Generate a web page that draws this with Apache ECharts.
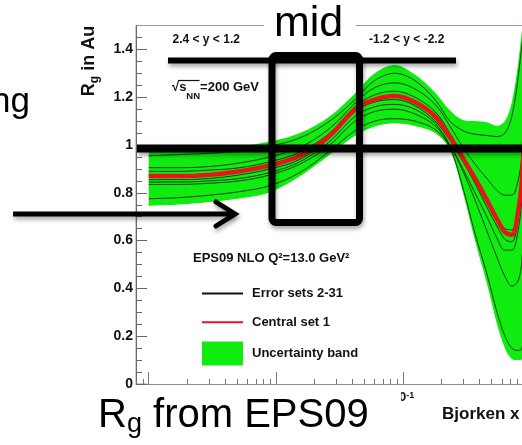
<!DOCTYPE html>
<html>
<head>
<meta charset="utf-8">
<script src="https://cdn.jsdelivr.net/npm/echarts@6/dist/echarts.min.js"></script>
<style>
  html, body { margin: 0; padding: 0; background: #fff; }
  #chart { width: 522px; height: 445px; }
</style>
</head>
<body>
<div id="chart"></div>
<script>
// EPS09 NLO gluon modification R_g(x) in Au at Q^2 = 13 GeV^2
const bjorkenX = [0.001, 0.00175, 0.003, 0.0052, 0.009, 0.0155, 0.0266, 0.042, 0.06, 0.0865,
                  0.124, 0.179, 0.234, 0.297, 0.369, 0.458, 0.55, 0.635, 0.72, 0.805, 0.865, 0.94];

// central set 1
const centralSet = [0.87, 0.87, 0.875, 0.89, 0.915, 0.955, 1.04, 1.15, 1.19, 1.205,
                    1.18, 1.12, 1.035, 0.945, 0.86, 0.77, 0.69, 0.635, 0.625, 0.72, 0.86, 1.25];

// uncertainty band edges
const bandUpper = [0.975, 0.98, 0.985, 0.995, 1.015, 1.05, 1.12, 1.215, 1.30, 1.335,
                   1.295, 1.22, 1.145, 1.105, 1.10, 1.095, 1.08, 1.10, 1.18, 1.34, 1.48, 1.62];
const bandLower = [0.745, 0.75, 0.76, 0.775, 0.80, 0.865, 0.955, 1.035, 1.075, 1.09,
                   1.08, 1.05, 0.98, 0.80, 0.60, 0.42, 0.25, 0.15, 0.105, 0.10, 0.10, 0.12];

// error sets (a representative subset of sets 2-31)
const errA = [0.955, 0.96, 0.965, 0.975, 0.995, 1.03, 1.10, 1.19, 1.27, 1.30,
              1.27, 1.19, 1.10, 1.06, 1.045, 1.04, 1.035, 1.05, 1.12, 1.28, 1.42, 1.6];
const errB = [0.905, 0.905, 0.91, 0.925, 0.95, 0.99, 1.07, 1.175, 1.24, 1.26,
              1.235, 1.17, 1.08, 0.99, 0.92, 0.86, 0.81, 0.79, 0.79, 0.85, 0.96, 1.3];
const errC = [0.89, 0.89, 0.895, 0.905, 0.93, 0.97, 1.05, 1.16, 1.21, 1.225,
              1.20, 1.14, 1.05, 0.955, 0.87, 0.78, 0.70, 0.65, 0.645, 0.73, 0.88, 1.3];
const errD = [0.875, 0.875, 0.88, 0.89, 0.915, 0.955, 1.035, 1.145, 1.19, 1.20,
              1.18, 1.12, 1.03, 0.94, 0.855, 0.765, 0.685, 0.63, 0.62, 0.71, 0.86, 1.25];
const errE = [0.855, 0.855, 0.86, 0.875, 0.90, 0.94, 1.03, 1.14, 1.18, 1.19,
              1.165, 1.10, 1.02, 0.93, 0.84, 0.74, 0.66, 0.605, 0.595, 0.69, 0.84, 1.2];
const errF = [0.845, 0.845, 0.85, 0.86, 0.885, 0.93, 1.015, 1.12, 1.16, 1.17,
              1.15, 1.09, 1.0, 0.89, 0.77, 0.64, 0.53, 0.45, 0.41, 0.43, 0.52, 0.9];
const errG = [0.835, 0.835, 0.84, 0.85, 0.875, 0.92, 1.0, 1.10, 1.14, 1.15,
              1.13, 1.08, 1.0, 0.90, 0.80, 0.70, 0.61, 0.56, 0.56, 0.64, 0.78, 1.1];
const errH = [0.775, 0.78, 0.79, 0.805, 0.83, 0.885, 0.975, 1.06, 1.10, 1.11,
              1.10, 1.065, 0.99, 0.82, 0.63, 0.46, 0.30, 0.20, 0.15, 0.14, 0.15, 0.3];
const errorSets = [errA, errB, errC, errD, errE, errF, errG, errH];

// axis ticks
const xMajorTicks = [0.001, 0.01, 0.1];
const xMinorTicks = [0.0009,
  0.002, 0.003, 0.004, 0.005, 0.006, 0.007, 0.008, 0.009,
  0.02, 0.03, 0.04, 0.05, 0.06, 0.07, 0.08, 0.09,
  0.2, 0.3, 0.4, 0.5, 0.6, 0.7, 0.8, 0.9];
const yMajorTicks = [0, 0.2, 0.4, 0.6, 0.8, 1, 1.2, 1.4];
const yMinorTicks = [0.05, 0.1, 0.15, 0.25, 0.3, 0.35, 0.45, 0.5, 0.55, 0.65, 0.7, 0.75,
  0.85, 0.9, 0.95, 1.05, 1.1, 1.15, 1.25, 1.3, 1.35, 1.45];

const FONT = '"Liberation Sans", Arial, sans-serif';
const GREEN = '#10ec10';
const RED = '#e8141c';

// x is plotted as log10(x) on a linear value axis
const lg = v => Math.log10(v);
const pts = arr => bjorkenX.map((x, i) => [lg(x), arr[i]]);

const overlayShadow = {
  shadowColor: 'rgba(0,0,0,0.35)', shadowBlur: 4, shadowOffsetX: 1, shadowOffsetY: 3
};

const chart = echarts.init(document.getElementById('chart'), null, { renderer: 'canvas' });

// band: green fill under the upper edge, then white fill under the lower edge
const series = [
  {
    name: 'Uncertainty band', type: 'line', data: pts(bandUpper),
    symbol: 'none', smooth: 0.35, silent: true, z: 1,
    itemStyle: { color: GREEN },
    lineStyle: { color: GREEN, width: 0 },
    areaStyle: { color: GREEN, opacity: 1 }
  },
  {
    name: 'bandFloor', type: 'line', data: pts(bandLower),
    symbol: 'none', smooth: 0.35, silent: true, z: 2,
    itemStyle: { color: '#fff' },
    lineStyle: { color: '#fff', width: 0 },
    // a 1px white offset copy hides the anti-aliased green seam on the left edge
    areaStyle: { color: '#fff', opacity: 1, shadowColor: '#fff', shadowBlur: 0, shadowOffsetX: -1.5 }
  }
];
errorSets.forEach(set => {
  series.push({
    name: 'Error sets 2-31', type: 'line', data: pts(set),
    symbol: 'none', smooth: 0.35, silent: true, z: 3,
    itemStyle: { color: '#000' },
    lineStyle: { color: '#111', width: 0.8 }
  });
});
series.push({
  name: 'Central set 1', type: 'line', data: pts(centralSet),
  symbol: 'none', smooth: 0.35, silent: true, z: 4,
  itemStyle: { color: RED },
  lineStyle: { color: RED, width: 4.5 }
});

const option = {
  animation: false,
  backgroundColor: '#fff',
  grid: {
    left: 136, top: 25.5, width: 394, height: 358.5,
    show: true, borderColor: '#9a9a9a', borderWidth: 1,
    outerBoundsMode: 'none', containLabel: false
  },
  xAxis: [
    {
      type: 'value', min: -3.1, max: 0, position: 'bottom', z: 6,
      axisLine: { show: true, onZero: false, lineStyle: { color: '#8a8a8a', width: 1 } },
      axisTick: { show: true, inside: true, length: 12, customValues: xMajorTicks.map(lg),
                  lineStyle: { color: '#777', width: 1 } },
      axisLabel: {
        customValues: xMajorTicks.map(lg), margin: 7,
        formatter: v => '{b|10}{s|' + Math.round(v) + '}',
        rich: {
          b: { fontFamily: FONT, fontWeight: 'bold', fontSize: 13, color: '#111' },
          s: { fontFamily: FONT, fontWeight: 'bold', fontSize: 9, color: '#111', verticalAlign: 'top' }
        }
      },
      splitLine: { show: false }
    },
    {
      type: 'value', min: -3.1, max: 0, position: 'bottom', z: 6,
      axisLine: { show: false, onZero: false },
      axisTick: { show: true, inside: true, length: 5, customValues: xMinorTicks.map(lg),
                  lineStyle: { color: '#777', width: 1 } },
      axisLabel: { show: false },
      splitLine: { show: false }
    }
  ],
  yAxis: [
    {
      type: 'value', min: 0, max: 1.5, position: 'left', z: 6,
      axisLine: { show: true, onZero: false, lineStyle: { color: '#6a6a6a', width: 1 } },
      axisTick: { show: true, inside: true, length: 11, customValues: yMajorTicks,
                  lineStyle: { color: '#666', width: 1 } },
      axisLabel: {
        customValues: yMajorTicks, margin: 3,
        fontFamily: FONT, fontWeight: 'bold', fontSize: 14, color: '#111'
      },
      splitLine: { show: false }
    },
    {
      type: 'value', min: 0, max: 1.5, position: 'left', z: 6,
      axisLine: { show: false, onZero: false },
      axisTick: { show: true, inside: true, length: 6, customValues: yMinorTicks,
                  lineStyle: { color: '#666', width: 1 } },
      axisLabel: { show: false },
      splitLine: { show: false }
    }
  ],
  legend: {
    orient: 'vertical', left: 196, top: 279, z: 8,
    itemWidth: 41, itemHeight: 24, itemGap: 9.5,
    selectedMode: false,
    textStyle: { fontFamily: FONT, fontWeight: 'bold', fontSize: 13, color: '#111', padding: [0, 0, 0, 4] },
    data: [
      { name: 'Error sets 2-31', itemStyle: { opacity: 0 } },
      { name: 'Central set 1', itemStyle: { opacity: 0 } },
      { name: 'Uncertainty band', icon: 'rect' }
    ]
  },
  series: series,
  graphic: {
    elements: [
      // plot labels
      { type: 'text', z: 15, x: 172.5, y: 39.8,
        style: { text: '2.4 < y < 1.2', font: 'bold 12px ' + FONT, fill: '#111', align: 'left', verticalAlign: 'middle' } },
      { type: 'text', z: 15, x: 369, y: 39.2,
        style: { text: '-1.2 < y < -2.2', font: 'bold 12px ' + FONT, fill: '#111', align: 'left', verticalAlign: 'middle' } },
      { type: 'text', z: 15, x: 172, y: 81,
        style: {
          text: '{a|\u221A}{a|s}{n|NN}{a|=200 GeV}', align: 'left', verticalAlign: 'top',
          rich: {
            a: { fontFamily: FONT, fontWeight: 'bold', fontSize: 13, lineHeight: 13, verticalAlign: 'top', fill: '#111', color: '#111' },
            n: { fontFamily: FONT, fontWeight: 'bold', fontSize: 9.5, lineHeight: 20.5, verticalAlign: 'bottom', fill: '#111', color: '#111' }
          }
        } },
      { type: 'line', z: 15, shape: { x1: 178, y1: 80.5, x2: 199.5, y2: 80.5 },
        style: { stroke: '#111', lineWidth: 1.2 } },
      { type: 'text', z: 15, x: 193, y: 258.5,
        style: { text: 'EPS09 NLO Q\u00B2=13.0 GeV\u00B2', font: 'bold 13px ' + FONT, fill: '#111', align: 'left', verticalAlign: 'middle' } },
      // axis titles
      { type: 'text', z: 15, x: 79.8, y: 61, rotation: Math.PI / 2,
        style: {
          text: '{a|R}{s|g}{a| in Au}', align: 'center', verticalAlign: 'top',
          rich: {
            a: { fontFamily: FONT, fontWeight: 'bold', fontSize: 18, lineHeight: 18, verticalAlign: 'top', fill: '#111', color: '#111' },
            s: { fontFamily: FONT, fontWeight: 'bold', fontSize: 12, lineHeight: 20.5, verticalAlign: 'bottom', fill: '#111', color: '#111' }
          }
        } },
      { type: 'text', z: 15, x: 442, y: 414.1,
        style: { text: 'Bjorken x', font: 'bold 17px ' + FONT, fill: '#111', align: 'left', verticalAlign: 'middle' } },

      // slide overlays
      { type: 'line', z: 20, shape: { x1: 137, y1: 148.5, x2: 530, y2: 148.5 },
        style: Object.assign({ stroke: '#000', lineWidth: 8 }, overlayShadow) },
      { type: 'line', z: 20, shape: { x1: 168, y1: 60.5, x2: 456, y2: 60.5 },
        style: Object.assign({ stroke: '#000', lineWidth: 6 }, overlayShadow) },
      { type: 'rect', z: 20, shape: { x: 272, y: 55.5, width: 87.5, height: 167, r: 4 },
        style: Object.assign({ fill: 'none', stroke: '#000', lineWidth: 7 }, overlayShadow) },
      { type: 'line', z: 20, shape: { x1: 13, y1: 214, x2: 233, y2: 214 },
        style: Object.assign({ stroke: '#000', lineWidth: 5 }, overlayShadow) },
      { type: 'polyline', z: 20, shape: { points: [[216, 202], [235, 214], [216, 226]] },
        style: Object.assign({ stroke: '#000', lineWidth: 5, fill: 'none', lineJoin: 'miter', lineCap: 'round' }, overlayShadow) },

      { type: 'rect', z: 25, shape: { x: 264, y: 0, width: 92, height: 46 }, style: { fill: '#fff' } },
      { type: 'text', z: 26, x: 274, y: 24,
        style: { text: 'mid', font: '43px ' + FONT, fill: '#000', align: 'left', verticalAlign: 'middle' } },
      { type: 'text', z: 26, x: 30, y: 102.5,
        style: { text: 'ng', font: '35px ' + FONT, fill: '#000', align: 'right', verticalAlign: 'middle' } },

      { type: 'rect', z: 25, shape: { x: 88, y: 388, width: 313, height: 57 }, style: { fill: '#fff' } },
      { type: 'text', z: 26, x: 98, y: 396,
        style: {
          text: '{a|R}{s|g}{a| from EPS09}', align: 'left', verticalAlign: 'top',
          rich: {
            a: { fontFamily: FONT, fontSize: 40, lineHeight: 40, verticalAlign: 'top', fill: '#000', color: '#000' },
            s: { fontFamily: FONT, fontSize: 27, lineHeight: 42.5, verticalAlign: 'bottom', fill: '#000', color: '#000' }
          }
        } }
    ]
  }
};

chart.setOption(option);
</script>
</body>
</html>
